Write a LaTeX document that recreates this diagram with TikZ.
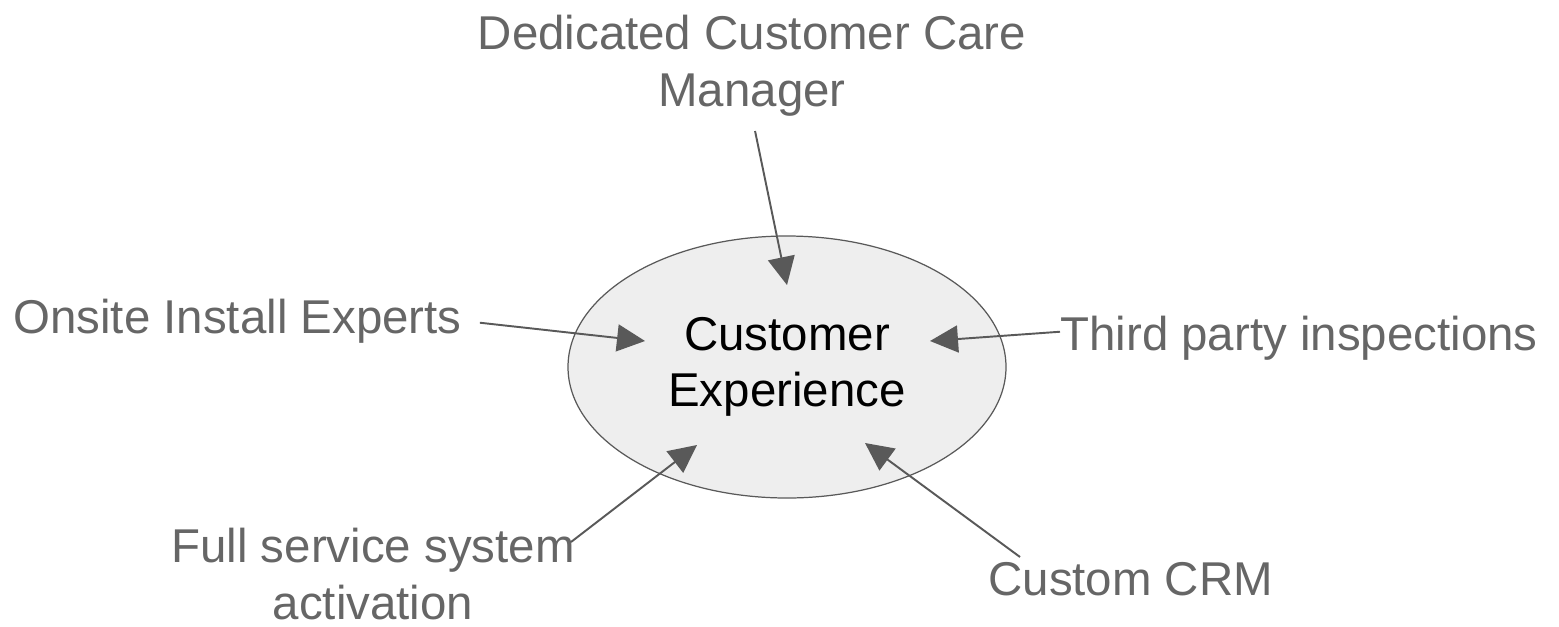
\documentclass[tikz,border=0pt]{standalone}
\usepackage{fontspec}
\setmainfont{Liberation Sans}
\usepackage{xcolor}
\usetikzlibrary{arrows.meta,shapes.geometric,positioning}
\definecolor{linegray}{HTML}{595959}
\definecolor{labelgray}{HTML}{666666}
\definecolor{bubblefill}{HTML}{EEEEEE}
\tikzset{>={Triangle[length=5.6mm,width=5.4mm]}}
\tikzset{
	labeltext/.style={text=labelgray, inner sep=0pt, font=\fontsize{27}{32.1}\selectfont},
	feed/.style={->, draw=linegray, line width=1.1pt},
	bubble/.style={ellipse, draw=linegray, fill=bubblefill, line width=0.7pt, inner sep=0pt,
		minimum width=8.76cm, minimum height=5.24cm, align=center, font=\fontsize{27}{32.1}\selectfont}
}

\begin{document}
\begin{tikzpicture}
	\useasboundingbox (0,0) rectangle (31.18,-12.52);
	
	% Centre bubble
	\node[bubble] (ce) at (15.74,-7.34) {Customer\\Experience};
	
	% Labels round it
	\node[labeltext, align=center, anchor=north] (dccm) at (15.04,-0.30) {Dedicated Customer Care\\Manager};
	\node[labeltext, anchor=base west] (onsite) at (0.26,-6.66) {Onsite Install Experts};
	\node[labeltext, anchor=base west] (third) at (21.2,-7.0) {Third party inspections};
	\node[labeltext, align=center, anchor=north] (fss) at (7.46,-10.56) {Full service system\\activation};
	\node[labeltext, anchor=base west] (crm) at (19.76,-11.9) {Custom CRM};
	
	% Arrow ends
	\coordinate (tipN) at (15.74,-5.70); %top tip
	\coordinate (tipW) at (12.9,-6.82); %left tip
	\coordinate (tipE) at (18.6,-6.82); %right tip
	\coordinate (tipSW) at (13.94,-8.9); %lower left tip
	\coordinate (tipSE) at (17.3,-8.86); %lower right tip
	\coordinate (fssTail) at (11.42,-10.84); %start at "system"
	\coordinate (crmTail) at (20.4,-11.14); %start at "Custom"
	
	% Drawing the arrows
	\draw[feed, shorten <=0.3cm] (dccm.south) -- (tipN);
	\draw[feed, shorten <=0.36cm] (onsite.east) -- (tipW);
	\draw[feed] ([yshift=0.12cm]third.west) -- (tipE);
	\draw[feed] (fssTail) -- (tipSW);
	\draw[feed] (crmTail) -- (tipSE);
\end{tikzpicture}
\end{document}
